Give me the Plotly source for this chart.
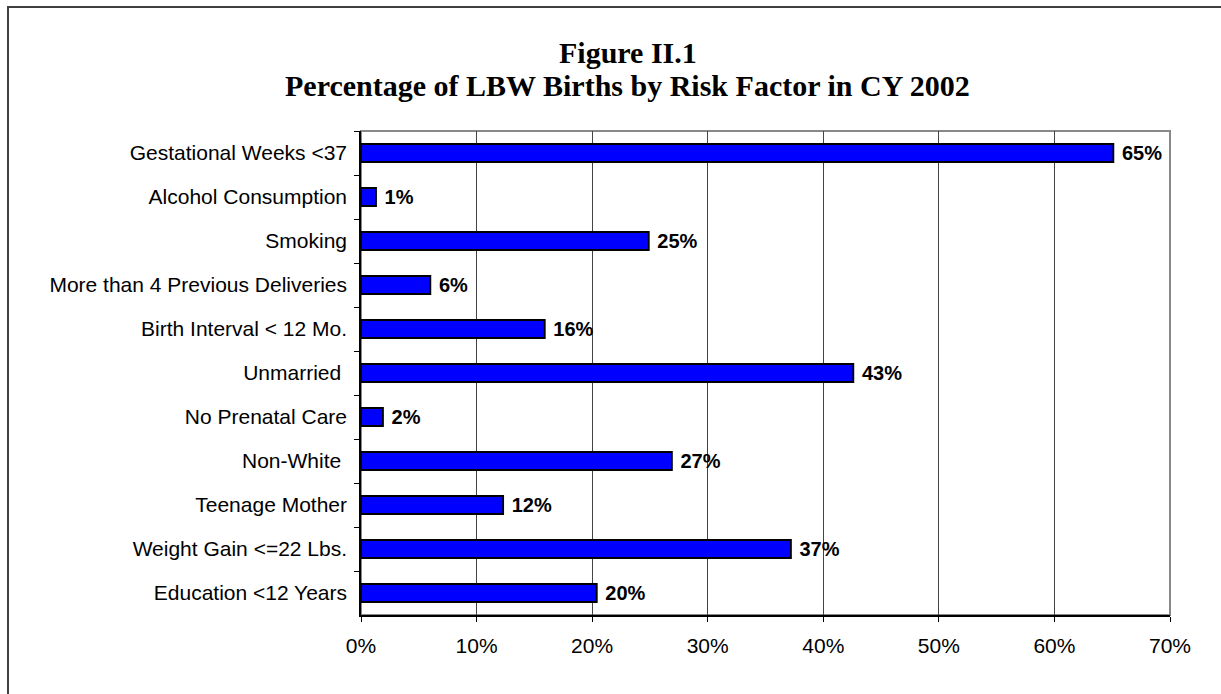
import plotly.graph_objects as go

categories = ["Gestational Weeks <37", "Alcohol Consumption", "Smoking",
              "More than 4 Previous Deliveries", "Birth Interval < 12 Mo.",
              "Unmarried ", "No Prenatal Care", "Non-White ", "Teenage Mother",
              "Weight Gain <=22 Lbs.", "Education <12 Years"]
values = [65.1, 1.3, 24.9, 6.0, 15.9, 42.6, 1.9, 26.9, 12.3, 37.2, 20.4]
labels = ["65%", "1%", "25%", "6%", "16%", "43%", "2%", "27%", "12%", "37%", "20%"]
x_ticks = [0, 10, 20, 30, 40, 50, 60, 70]
x_tick_text = ["0%", "10%", "20%", "30%", "40%", "50%", "60%", "70%"]

fig = go.Figure(go.Bar(
    x=values, y=categories, orientation="h",
    marker=dict(color="#0000FF", line=dict(color="black", width=1.8)),
    text=[" " + t for t in labels], textposition="outside", cliponaxis=False,
    constraintext="none",
    textfont=dict(family="Liberation Sans, Arial", size=20, color="black", weight="bold"),
))

fig.update_layout(
    width=1221, height=694,
    margin=dict(l=361, r=51, t=131, b=79),
    paper_bgcolor="white", plot_bgcolor="white",
    showlegend=False, bargap=0.59,
    font=dict(family="Liberation Sans, Arial", size=21, color="black"),
    annotations=[
        dict(text="<b>Figure II.1</b>", xref="paper", yref="paper",
             x=0.33, y=(615 - 53) / 484, xanchor="center", yanchor="middle",
             showarrow=False, font=dict(family="Liberation Serif, Times New Roman", size=30, color="black")),
        dict(text="<b>Percentage of LBW Births by Risk Factor in CY 2002</b>", xref="paper", yref="paper",
             x=0.33, y=(615 - 86) / 484, xanchor="center", yanchor="middle",
             showarrow=False, font=dict(family="Liberation Serif, Times New Roman", size=30, color="black")),
    ],
    shapes=[
        dict(type="rect", xref="paper", yref="paper", x0=(8 - 361) / 809, x1=1.2,
             y0=-0.3, y1=(615 - 7) / 484, line=dict(color="#404040", width=2), layer="below"),
        dict(type="rect", xref="paper", yref="paper", x0=0, x1=1, y0=0, y1=1,
             line=dict(color="#888888", width=2), layer="below"),
    ],
)

fig.update_xaxes(range=[0, 70], tickvals=x_ticks, ticktext=x_tick_text,
                 showgrid=True, gridcolor="#444444", gridwidth=1,
                 showline=True, linecolor="black", linewidth=1.5,
                 ticks="outside", ticklen=5, tickcolor="black",
                 ticklabelstandoff=6, tickfont=dict(size=21), zeroline=False)
fig.update_yaxes(autorange="reversed", showgrid=False,
                 showline=True, linecolor="black", linewidth=1.5,
                 ticks="outside", ticklen=5, tickcolor="black", tickson="boundaries",
                 ticklabelstandoff=8, tickfont=dict(size=21))

fig.write_html("out.html")
